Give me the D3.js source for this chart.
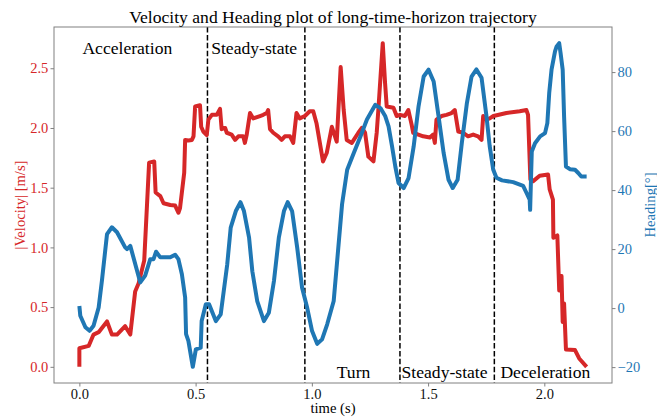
<!DOCTYPE html>
<html>
<head>
<meta charset="utf-8">
<script src="https://cdn.jsdelivr.net/npm/d3@7"></script>
<style>
  html, body { margin: 0; padding: 0; background: #fff; }
  text { font-family: "Liberation Serif", "Times New Roman", serif; }
</style>
</head>
<body>
<div id="chart"></div>
<script>
// velocity trace (time in s, |v| in m/s)
const velTime = [0.000, 0.000, 0.040, 0.061, 0.083, 0.119, 0.140, 0.162, 0.197, 0.219, 0.240, 0.255, 0.279, 0.300, 0.322, 0.328, 0.348, 0.362, 0.391, 0.412, 0.426, 0.433, 0.451, 0.455, 0.469, 0.484, 0.491, 0.498, 0.519, 0.524, 0.533, 0.548, 0.555, 0.570, 0.591, 0.605, 0.612, 0.627, 0.634, 0.655, 0.670, 0.684, 0.705, 0.712, 0.720, 0.734, 0.748, 0.777, 0.791, 0.806, 0.812, 0.820, 0.834, 0.855, 0.870, 0.884, 0.906, 0.920, 0.934, 0.948, 0.970, 0.991, 1.006, 1.020, 1.048, 1.064, 1.086, 1.107, 1.124, 1.137, 1.150, 1.172, 1.200, 1.215, 1.229, 1.243, 1.265, 1.279, 1.286, 1.305, 1.315, 1.322, 1.351, 1.365, 1.379, 1.400, 1.415, 1.429, 1.436, 1.458, 1.479, 1.508, 1.522, 1.529, 1.536, 1.558, 1.579, 1.601, 1.615, 1.630, 1.651, 1.672, 1.694, 1.715, 1.730, 1.737, 1.751, 1.765, 1.781, 1.837, 1.894, 1.923, 1.930, 1.940, 1.952, 1.980, 2.016, 2.023, 2.037, 2.039, 2.056, 2.064, 2.074, 2.079, 2.085, 2.093, 2.132, 2.150, 2.182];
const velocity = [0.00, 0.155, 0.175, 0.27, 0.29, 0.38, 0.27, 0.27, 0.34, 0.27, 0.63, 0.70, 0.89, 1.71, 1.72, 1.46, 1.43, 1.37, 1.355, 1.35, 1.29, 1.33, 1.625, 1.90, 1.895, 1.90, 1.93, 2.18, 2.19, 2.01, 1.97, 1.94, 2.07, 2.11, 2.11, 2.16, 1.99, 2.00, 1.96, 1.945, 1.90, 1.93, 1.93, 1.875, 1.945, 2.125, 2.08, 2.10, 2.11, 2.125, 2.15, 1.99, 1.96, 1.93, 1.90, 1.93, 1.93, 1.875, 2.125, 2.08, 2.10, 2.14, 2.14, 2.04, 1.72, 1.79, 2.01, 1.885, 2.51, 2.15, 1.90, 1.875, 1.96, 2.00, 1.96, 1.76, 1.72, 1.96, 2.15, 2.71, 2.375, 2.18, 2.17, 2.10, 2.11, 2.10, 2.15, 2.03, 1.96, 1.945, 1.93, 1.92, 1.945, 1.875, 2.07, 2.10, 2.11, 2.125, 2.15, 1.97, 1.96, 1.93, 1.945, 1.93, 1.90, 2.10, 2.07, 2.08, 2.10, 2.125, 2.14, 2.15, 2.11, 1.57, 1.555, 1.60, 1.61, 1.485, 1.40, 1.08, 1.10, 0.64, 0.76, 0.375, 0.53, 0.145, 0.14, 0.07, 0.00];

// heading trace (time in s, heading in degrees)
const headTime = [0.000, 0.004, 0.026, 0.044, 0.061, 0.083, 0.097, 0.119, 0.140, 0.162, 0.197, 0.205, 0.219, 0.262, 0.283, 0.305, 0.319, 0.330, 0.348, 0.391, 0.412, 0.426, 0.441, 0.455, 0.459, 0.469, 0.488, 0.501, 0.522, 0.526, 0.544, 0.558, 0.587, 0.608, 0.636, 0.651, 0.673, 0.693, 0.708, 0.730, 0.744, 0.765, 0.794, 0.815, 0.837, 0.858, 0.880, 0.896, 0.915, 0.937, 0.958, 0.980, 1.001, 1.023, 1.044, 1.066, 1.094, 1.130, 1.152, 1.180, 1.209, 1.237, 1.273, 1.295, 1.316, 1.330, 1.345, 1.359, 1.373, 1.395, 1.416, 1.438, 1.459, 1.481, 1.502, 1.524, 1.545, 1.567, 1.588, 1.606, 1.627, 1.645, 1.667, 1.687, 1.708, 1.730, 1.751, 1.765, 1.780, 1.794, 1.818, 1.866, 1.909, 1.923, 1.937, 1.939, 1.946, 1.960, 1.982, 2.003, 2.013, 2.021, 2.031, 2.046, 2.053, 2.064, 2.070, 2.079, 2.085, 2.093, 2.110, 2.132, 2.146, 2.159, 2.182];
const heading = [0.7, -2.6, -6.5, -7.7, -6.0, 0.2, 9.3, 25.1, 27.4, 25.7, 20.6, 20.0, 21.1, 8.7, 11.0, 16.6, 16.6, 19.1, 17.2, 17.2, 18.1, 16.6, 11.5, 3.6, -8.8, -11.1, -19.9, -14.0, -13.4, -4.4, 1.3, 1.3, -4.4, -2.1, 14.8, 27.3, 32.9, 35.9, 32.9, 23.9, 12.5, 2.4, -4.4, -1.6, 9.2, 23.9, 32.9, 35.9, 32.9, 20.5, 6.9, 0.1, -7.8, -12.1, -10.6, -5.5, 2.4, 35.2, 46.9, 52.5, 58.2, 63.9, 68.9, 67.8, 65.0, 61.6, 54.8, 48.0, 42.4, 40.7, 44.1, 54.8, 68.4, 78.5, 80.8, 76.8, 65.0, 52.5, 43.5, 40.7, 43.5, 55.9, 69.5, 78.5, 80.9, 78.1, 65.1, 54.9, 47.0, 44.2, 43.3, 42.7, 41.4, 39.1, 36.8, 33.3, 53.1, 55.9, 58.2, 59.3, 62.7, 72.9, 80.8, 87.0, 88.7, 89.8, 86.4, 80.8, 65.0, 48.0, 47.1, 46.9, 45.8, 44.6, 44.6];

// phase boundaries and labels
const phaseLines = [0.551, 0.970, 1.379, 1.785];
const phaseNames = ["Acceleration", "Steady-state", "Turn", "Steady-state", "Deceleration"];
const phaseX = [0.013, 0.567, 1.107, 1.386, 1.811];
const phaseY = [2.62, 2.62, -0.09, -0.09, -0.09];

const timeTicks = [0.0, 0.5, 1.0, 1.5, 2.0];
const velTicks = [0.0, 0.5, 1.0, 1.5, 2.0, 2.5];
const headTicks = [-20, 0, 20, 40, 60, 80];

const red = "#d62728", blue = "#1f77b4", spine = "#808080";

const W = 657, H = 418;
const margin = {top: 27, right: 45, bottom: 35, left: 54};
const width = W - margin.left - margin.right,
      height = H - margin.top - margin.bottom;

function padded(vals) {
  const [lo, hi] = d3.extent(vals);
  const p = (hi - lo) * 0.05;
  return [lo - p, hi + p];
}

const svg = d3.select("#chart").append("svg")
  .attr("width", W)
  .attr("height", H);

const g = svg.append("g")
  .attr("transform", "translate(" + margin.left + "," + margin.top + ")");

const x = d3.scaleLinear().domain(padded(velTime.concat(headTime))).range([0, width]);
const yV = d3.scaleLinear().domain(padded(velocity)).range([height, 0]);
const yH = d3.scaleLinear().domain(padded(heading)).range([height, 0]);

// axes
const xAxis = g.append("g")
  .attr("transform", "translate(0," + height + ")")
  .call(d3.axisBottom(x).tickValues(timeTicks).tickFormat(d3.format(".1f"))
    .tickSize(3.5).tickPadding(2.5));

const lAxis = g.append("g")
  .call(d3.axisLeft(yV).tickValues(velTicks).tickFormat(d3.format(".1f"))
    .tickSize(3.5).tickPadding(2.2));

const rAxis = g.append("g")
  .attr("transform", "translate(" + width + ",0)")
  .call(d3.axisRight(yH).tickValues(headTicks).tickFormat(d3.format("d"))
    .tickSize(3.5).tickPadding(2));

[xAxis, lAxis, rAxis].forEach(a => {
  a.select(".domain").remove();
  a.selectAll(".tick line").attr("stroke", spine).attr("stroke-width", 1);
  a.selectAll(".tick text").style("font-size", "14.5px")
    .style("font-family", '"Liberation Serif", "Times New Roman", serif');
});
xAxis.selectAll(".tick text").attr("fill", "#111");
lAxis.selectAll(".tick text").attr("fill", red);
rAxis.selectAll(".tick text").attr("fill", blue);

// phase separators
g.append("g").selectAll("line")
  .data(phaseLines)
  .enter()
  .append("line")
  .attr("x1", d => x(d)).attr("x2", d => x(d))
  .attr("y1", 0).attr("y2", height)
  .attr("stroke", "#000")
  .attr("stroke-width", 1.5)
  .attr("stroke-dasharray", "5.5,2.4");

// curves
const velLine = d3.line().x((d, i) => x(velTime[i])).y(d => yV(d));
const headLine = d3.line().x((d, i) => x(headTime[i])).y(d => yH(d));

g.append("path")
  .attr("d", velLine(velocity))
  .attr("fill", "none")
  .attr("stroke", red)
  .attr("stroke-width", 4)
  .attr("stroke-linejoin", "round");

g.append("path")
  .attr("d", headLine(heading))
  .attr("fill", "none")
  .attr("stroke", blue)
  .attr("stroke-width", 4)
  .attr("stroke-linejoin", "round");

// frame
g.append("rect")
  .attr("width", width).attr("height", height)
  .attr("fill", "none")
  .attr("stroke", spine)
  .attr("stroke-width", 1);

// phase labels
g.append("g").selectAll("text")
  .data(phaseNames)
  .enter()
  .append("text")
  .attr("x", (d, i) => x(phaseX[i]))
  .attr("y", (d, i) => yV(phaseY[i]))
  .style("font-size", "17.6px")
  .attr("fill", "#000")
  .text(d => d);

// title and axis labels
svg.append("text")
  .attr("x", margin.left + width / 2)
  .attr("y", 23)
  .attr("text-anchor", "middle")
  .style("font-size", "17.6px")
  .attr("fill", "#000")
  .text("Velocity and Heading plot of long-time-horizon trajectory");

svg.append("text")
  .attr("x", margin.left + width / 2)
  .attr("y", 413)
  .attr("text-anchor", "middle")
  .style("font-size", "14.6px")
  .attr("fill", "#000")
  .text("time (s)");

svg.append("text")
  .attr("transform", "translate(25," + (margin.top + height / 2) + ") rotate(-90)")
  .attr("text-anchor", "middle")
  .style("font-size", "14.6px")
  .attr("fill", red)
  .text("|Velocity| [m/s]");

svg.append("text")
  .attr("transform", "translate(655," + (margin.top + height / 2) + ") rotate(-90)")
  .attr("text-anchor", "middle")
  .style("font-size", "14.6px")
  .attr("fill", blue)
  .text("Heading[°]");
</script>
</body>
</html>
